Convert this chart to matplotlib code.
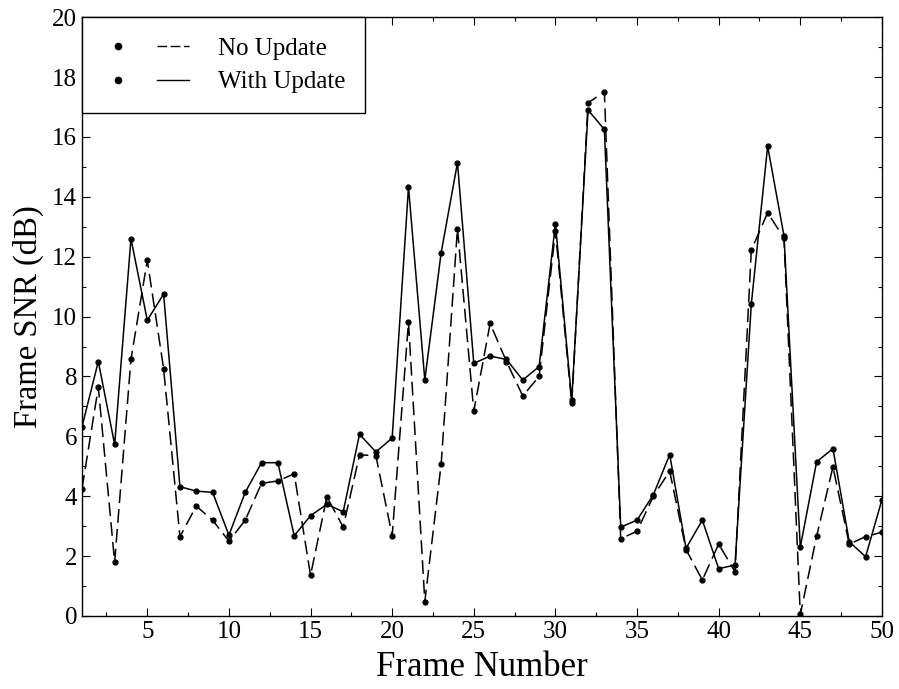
import matplotlib.pyplot as plt
import numpy as np
from matplotlib.lines import Line2D
from matplotlib.legend_handler import HandlerTuple
from matplotlib.ticker import MultipleLocator

plt.rcParams['font.family'] = ['Liberation Serif', 'DejaVu Serif']

frames = np.arange(1, 51)

# SNR per frame, fixed model
no_update = [4.25, 7.64, 1.80, 8.57, 11.88, 8.26, 2.65, 3.67, 3.20, 2.50,
             3.20, 4.43, 4.51, 4.75, 1.36, 3.98, 2.97, 5.38, 5.36, 2.68,
             9.82, 0.48, 5.07, 12.94, 6.84, 9.77, 8.50, 7.35, 8.00, 12.85,
             7.10, 17.14, 17.51, 2.58, 2.83, 4.00, 4.84, 2.22, 1.20, 2.40,
             1.48, 12.22, 13.47, 12.62, 0.05, 2.66, 4.98, 2.40, 2.65, 2.80]

# SNR per frame, model updated
with_update = [6.32, 8.50, 5.73, 12.60, 9.88, 10.75, 4.32, 4.17, 4.13, 2.70,
               4.13, 5.12, 5.12, 2.68, 3.35, 3.73, 3.48, 6.07, 5.48, 5.94,
               14.33, 7.88, 12.13, 15.14, 8.44, 8.68, 8.57, 7.88, 8.33, 13.10,
               7.20, 16.90, 16.25, 2.97, 3.20, 4.05, 5.39, 2.26, 3.20, 1.58,
               1.70, 10.42, 15.69, 12.70, 2.30, 5.15, 5.59, 2.48, 1.98, 3.88]

fig = plt.figure(figsize=(8.99, 6.89), dpi=100)
ax = fig.add_axes([0.0912, 0.106, 0.8898, 0.869])

ax.plot(frames, no_update, color='black', lw=1.1, dashes=(9, 4),
        marker='o', ms=3.5)
ax.plot(frames, with_update, color='black', lw=1.1,
        marker='o', ms=3.5)

ax.set_xlim(1, 50)
ax.set_ylim(0, 20)
ax.xaxis.set_major_locator(MultipleLocator(5))
ax.xaxis.set_minor_locator(MultipleLocator(2.5))
ax.yaxis.set_major_locator(MultipleLocator(2))
ax.yaxis.set_minor_locator(MultipleLocator(1))
ax.tick_params(which='both', direction='in', top=True, right=True,
               labelsize=18, width=0.8)
ax.tick_params(which='major', length=6)
ax.tick_params(which='minor', length=3)
for s in ax.spines.values():
    s.set_linewidth(1.0)

ax.set_xlabel('Frame Number', fontsize=25, labelpad=6)
ax.set_ylabel('Frame SNR (dB)', fontsize=23.5, labelpad=6)

dot = Line2D([], [], color='black', ls='none', marker='o', ms=4.5)
dash_line = Line2D([], [], color='black', lw=1.0, dashes=(7, 2.5))
solid_line = Line2D([], [], color='black', lw=1.0)
leg = ax.legend([(dot, dash_line), (dot, solid_line)],
                ['No Update', 'With Update'],
                handler_map={tuple: HandlerTuple(ndivide=None, pad=0.92)},
                loc='upper left', borderaxespad=0, fontsize=18,
                handlelength=3.48, handletextpad=1.16, borderpad=0.8,
                labelspacing=0.45, fancybox=False, edgecolor='black',
                framealpha=1)
leg.get_frame().set_linewidth(1.0)

fig.savefig('out.png', dpi=100)
